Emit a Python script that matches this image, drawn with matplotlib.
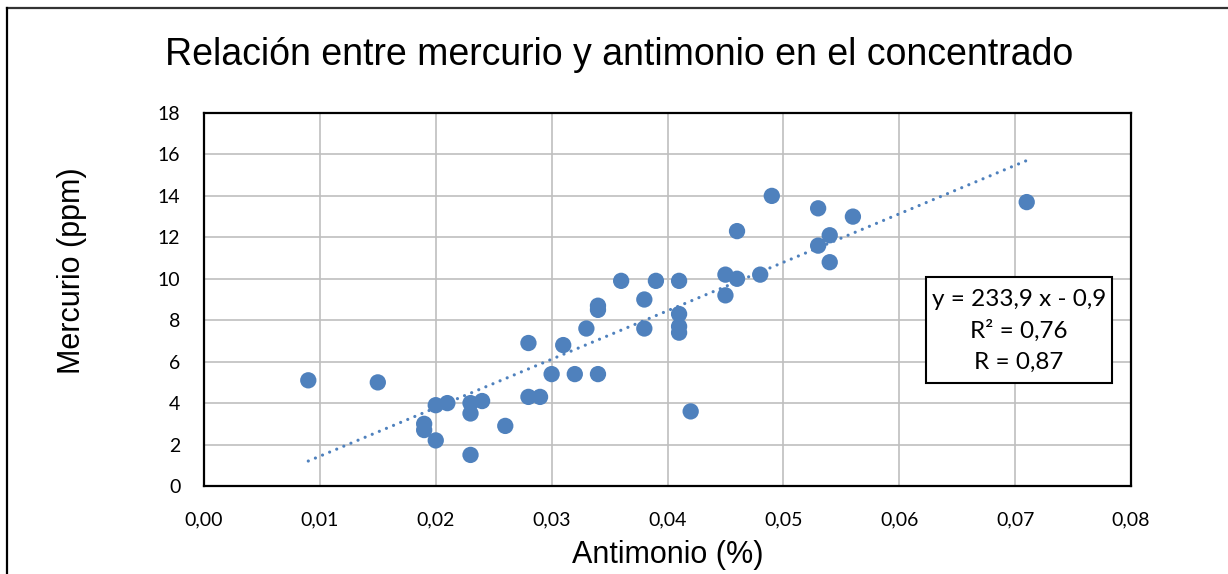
import matplotlib
matplotlib.use("Agg")
import matplotlib.pyplot as plt
from matplotlib.lines import Line2D
from matplotlib.patches import Rectangle
import numpy as np

# Antimonio (%) vs Mercurio (ppm)
antimonio = [
    0.009, 0.015, 0.019, 0.019, 0.020, 0.020, 0.021, 0.023, 0.023, 0.023,
    0.024, 0.026, 0.028, 0.028, 0.029, 0.030, 0.031, 0.032, 0.033, 0.034,
    0.034, 0.034, 0.036, 0.038, 0.038, 0.039, 0.041, 0.041, 0.041, 0.041,
    0.042, 0.045, 0.045, 0.046, 0.046, 0.048, 0.049, 0.053, 0.053, 0.054,
    0.054, 0.056, 0.071,
]
mercurio = [
    5.1, 5.0, 3.0, 2.7, 3.9, 2.2, 4.0, 4.0, 3.5, 1.5,
    4.1, 2.9, 6.9, 4.3, 4.3, 5.4, 6.8, 5.4, 7.6, 8.7,
    8.5, 5.4, 9.9, 9.0, 7.6, 9.9, 9.9, 8.3, 7.7, 7.4,
    3.6, 10.2, 9.2, 12.3, 10.0, 10.2, 14.0, 13.4, 11.6, 12.1,
    10.8, 13.0, 13.7,
]

# linear trend as reported on the chart
slope = 233.9
intercept = -0.9
eq_lines = ["y = 233,9 x - 0,9", "R² = 0,76", "R = 0,87"]

x_ticks = [0.00, 0.01, 0.02, 0.03, 0.04, 0.05, 0.06, 0.07, 0.08]
y_ticks = [0, 2, 4, 6, 8, 10, 12, 14, 16, 18]

blue = "#4f81bd"
W, H = 1228, 574

fig = plt.figure(figsize=(W / 100, H / 100), dpi=100)
fig.patch.set_facecolor("white")
ax = fig.add_axes([204 / W, 1 - 486 / H, (1131 - 204) / W, (486 - 113) / H])

ax.set_xlim(0, 0.08)
ax.set_ylim(0, 18)
ax.set_xticks(x_ticks)
ax.set_yticks(y_ticks)
ax.set_xticklabels([f"{v:.2f}".replace(".", ",") for v in x_ticks],
                   fontfamily="Lato", fontsize=14)
ax.set_yticklabels([str(v) for v in y_ticks], fontfamily="Lato", fontsize=14)
ax.tick_params(axis="both", length=0)
ax.tick_params(axis="x", pad=18.5)
ax.tick_params(axis="y", pad=17)

ax.grid(True, color="#bfbfbf", linewidth=1.2)
ax.set_axisbelow(True)
for sp in ax.spines.values():
    sp.set_color("black")
    sp.set_linewidth(1.6)

# trend line over the data range
xs = np.array([min(antimonio), max(antimonio)])
ax.plot(xs, slope * xs + intercept, color=blue, linewidth=2.3,
        linestyle=(0, (0.01, 2.4)), dash_capstyle="round", zorder=2)

ax.scatter(antimonio, mercurio, s=138, color=blue, edgecolors="none", zorder=3)

# equation box
ax.add_patch(Rectangle((0.779, 0.276), 0.2005, 0.284, transform=ax.transAxes,
                       facecolor="white", edgecolor="black", linewidth=1.5,
                       zorder=4))
ax.text(0.879, 0.416, "\n".join(eq_lines), transform=ax.transAxes,
        ha="center", va="center", fontfamily="Lato", fontsize=17.5,
        linespacing=1.58, zorder=5)

ax.set_xlabel("Antimonio (%)", fontfamily="Liberation Sans", fontsize=22,
              va="center")
ax.xaxis.set_label_coords(0.5, (486 - 555) / 373)
ax.set_ylabel("Mercurio (ppm)", fontfamily="Liberation Sans", fontsize=22,
              va="center")
ax.yaxis.set_label_coords((72 - 204) / 927, (486 - 271) / 373)

fig.text(619.5 / W, 1 - 55 / H, "Relación entre mercurio y antimonio en el concentrado",
         ha="center", va="center", fontfamily="Liberation Sans", fontsize=27)

# outer frame (top and left edges visible in the reference)
fig.add_artist(Line2D([7 / W, 1], [1 - 8 / H, 1 - 8 / H], color="#333333",
                      linewidth=1.6, transform=fig.transFigure))
fig.add_artist(Line2D([7 / W, 7 / W], [0, 1 - 8 / H], color="black",
                      linewidth=1.6, transform=fig.transFigure))

fig.savefig("out.png", dpi=100, facecolor="white")
